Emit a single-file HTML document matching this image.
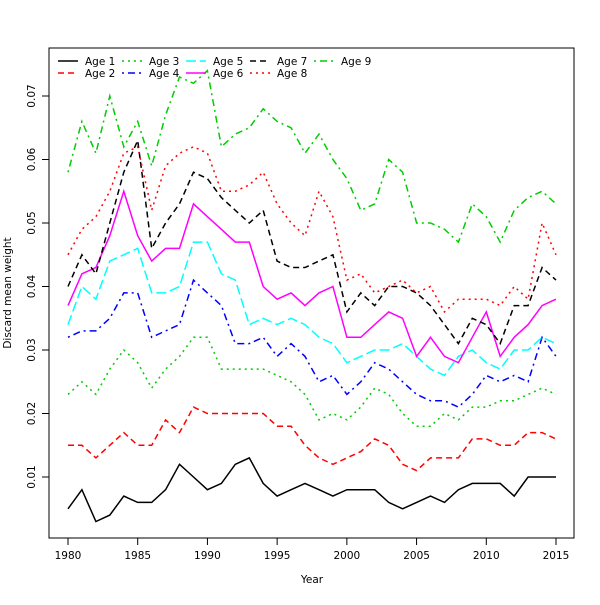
<!DOCTYPE html>
<html><head><meta charset="utf-8"><style>
body{margin:0;background:#fff;}
svg text{font-family:"DejaVu Sans","Liberation Sans",sans-serif;font-size:10.5px;fill:#000;}
</style></head><body>
<svg id="chart" width="600" height="600" xmlns="http://www.w3.org/2000/svg">
<rect x="0" y="0" width="600" height="600" fill="#fff"/>
<rect x="49" y="48" width="525" height="490" fill="none" stroke="#000" stroke-width="1"/>
<g id="axes"></g><g id="series"></g><g id="legend"></g>
<text x="312" y="583" text-anchor="middle">Year</text>
<text transform="translate(11,293) rotate(-90)" text-anchor="middle">Discard mean weight</text>
</svg>
<script>
const years=[];for(let y=1980;y<=2015;y++)years.push(y);
const xTicks=[1980,1985,1990,1995,2000,2005,2010,2015];
const yTicks=[0.01,0.02,0.03,0.04,0.05,0.06,0.07];
const seriesNames=["Age 1","Age 2","Age 3","Age 4","Age 5","Age 6","Age 7","Age 8","Age 9"];
const age1=[0.005,0.008,0.003,0.004,0.007,0.006,0.006,0.008,0.012,0.010,0.008,0.009,0.012,0.013,0.009,0.007,0.008,0.009,0.008,0.007,0.008,0.008,0.008,0.006,0.005,0.006,0.007,0.006,0.008,0.009,0.009,0.009,0.007,0.010,0.010,0.010];
const age2=[0.015,0.015,0.013,0.015,0.017,0.015,0.015,0.019,0.017,0.021,0.020,0.020,0.020,0.020,0.020,0.018,0.018,0.015,0.013,0.012,0.013,0.014,0.016,0.015,0.012,0.011,0.013,0.013,0.013,0.016,0.016,0.015,0.015,0.017,0.017,0.016];
const age3=[0.023,0.025,0.023,0.027,0.030,0.028,0.024,0.027,0.029,0.032,0.032,0.027,0.027,0.027,0.027,0.026,0.025,0.023,0.019,0.020,0.019,0.021,0.024,0.023,0.020,0.018,0.018,0.020,0.019,0.021,0.021,0.022,0.022,0.023,0.024,0.023];
const age4=[0.032,0.033,0.033,0.035,0.039,0.039,0.032,0.033,0.034,0.041,0.039,0.037,0.031,0.031,0.032,0.029,0.031,0.029,0.025,0.026,0.023,0.025,0.028,0.027,0.025,0.023,0.022,0.022,0.021,0.023,0.026,0.025,0.026,0.025,0.032,0.029];
const age5=[0.034,0.040,0.038,0.044,0.045,0.046,0.039,0.039,0.040,0.047,0.047,0.042,0.041,0.034,0.035,0.034,0.035,0.034,0.032,0.031,0.028,0.029,0.030,0.030,0.031,0.029,0.027,0.026,0.029,0.030,0.028,0.027,0.030,0.030,0.032,0.031];
const age6=[0.037,0.042,0.043,0.048,0.055,0.048,0.044,0.046,0.046,0.053,0.051,0.049,0.047,0.047,0.040,0.038,0.039,0.037,0.039,0.040,0.032,0.032,0.034,0.036,0.035,0.029,0.032,0.029,0.028,0.032,0.036,0.029,0.032,0.034,0.037,0.038];
const age7=[0.040,0.045,0.042,0.050,0.058,0.063,0.046,0.050,0.053,0.058,0.057,0.054,0.052,0.050,0.052,0.044,0.043,0.043,0.044,0.045,0.036,0.039,0.037,0.040,0.040,0.039,0.037,0.034,0.031,0.035,0.034,0.031,0.037,0.037,0.043,0.041];
const age8=[0.045,0.049,0.051,0.055,0.061,0.062,0.052,0.059,0.061,0.062,0.061,0.055,0.055,0.056,0.058,0.053,0.050,0.048,0.055,0.051,0.041,0.042,0.039,0.040,0.041,0.039,0.040,0.036,0.038,0.038,0.038,0.037,0.040,0.038,0.050,0.045];
const age9=[0.058,0.066,0.061,0.070,0.062,0.066,0.059,0.067,0.073,0.072,0.074,0.062,0.064,0.065,0.068,0.066,0.065,0.061,0.064,0.060,0.057,0.052,0.053,0.060,0.058,0.050,0.050,0.049,0.047,0.053,0.051,0.047,0.052,0.054,0.055,0.053];
const allSeries=[age1,age2,age3,age4,age5,age6,age7,age8,age9];
const colors=["#000","#ff0000","#00cd00","#0000ff","#00ffff","#ff00ff","#000","#ff0000","#00cd00"];
const dashes=["","6,4","2,4","2,4,7,4","10,4","","6,4","2,4","2,4,7,4"];
const NS="http://www.w3.org/2000/svg";
function X(yr){return 68+(yr-1980)*(556-68)/35;}
function Y(v){return 540.5-v*6350;}
function mk(tag,attrs,parent){const e=document.createElementNS(NS,tag);for(const k in attrs)e.setAttribute(k,attrs[k]);parent.appendChild(e);return e;}
const axes=document.getElementById('axes');
mk('line',{x1:X(1980),x2:X(2015),y1:538,y2:538,stroke:'#000'},axes);
xTicks.forEach(t=>{
  const l=mk('line',{x1:X(t),x2:X(t),y1:538,y2:545,stroke:'#000'},axes);
  
  
  const tx=mk('text',{x:X(t),y:559,'text-anchor':'middle'},axes);tx.textContent=t;
  
  
});
mk('line',{x1:49,x2:49,y1:Y(0.01),y2:Y(0.07),stroke:'#000'},axes);
yTicks.forEach(t=>{
  const l=mk('line',{x1:42,x2:49,y1:Y(t),y2:Y(t),stroke:'#000'},axes);
  
  
  const tx=mk('text',{transform:`translate(35,${Y(t)}) rotate(-90)`,'text-anchor':'middle'},axes);tx.textContent=t.toFixed(2);
  
  
});
const sg=document.getElementById('series');
allSeries.forEach((s,i)=>{
  const pts=s.map((v,j)=>X(years[j]).toFixed(1)+','+Y(v).toFixed(1)).join(' ');
  const p=mk('polyline',{points:pts,fill:'none',stroke:colors[i],'stroke-width':1.5},sg);
  if(dashes[i])p.setAttribute('stroke-dasharray',dashes[i]);
  
  
});
const lg=document.getElementById('legend');
seriesNames.forEach((n,i)=>{
  const col=Math.floor(i/2),row=i%2;
  const x0=58+col*64,y0=61+row*12;
  const l=mk('line',{x1:x0,x2:x0+20,y1:y0,y2:y0,stroke:colors[i],'stroke-width':1.5},lg);
  if(dashes[i])l.setAttribute('stroke-dasharray',dashes[i]);
  const t=mk('text',{x:x0+27,y:y0+4},lg);t.textContent=n;
  
  
});
</script>
</body></html>
